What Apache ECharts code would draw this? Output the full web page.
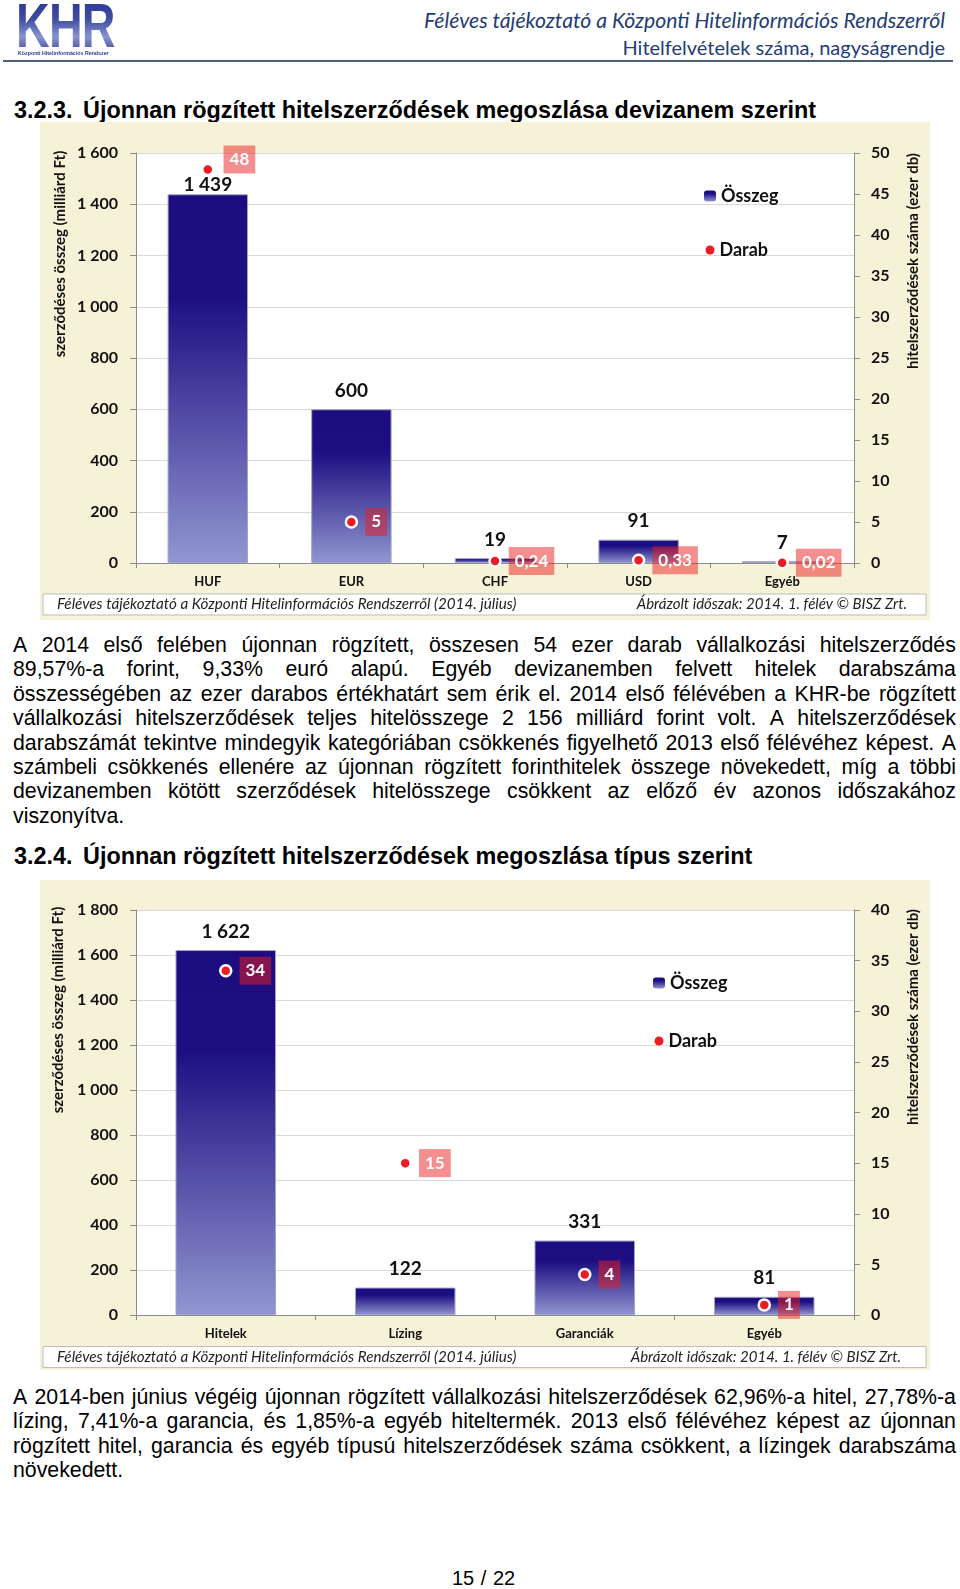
<!DOCTYPE html>
<html><head><meta charset="utf-8">
<script src="https://cdn.jsdelivr.net/npm/echarts@6/dist/echarts.min.js"></script>
<style>
html,body{margin:0;padding:0;background:#fff;}
body{width:960px;height:1589px;position:relative;overflow:hidden;font-family:"Liberation Sans",Arial,sans-serif;color:#000;}
#logoKHR{position:absolute;left:16px;top:-6px;font-family:"Liberation Sans",Arial,sans-serif;font-weight:bold;font-size:63px;line-height:63px;letter-spacing:-1px;transform:scaleX(0.74);transform-origin:0 0;background:linear-gradient(180deg,#26338a 0%,#3f4da3 40%,#8893cf 68%,#2a3589 100%);-webkit-background-clip:text;background-clip:text;color:transparent;white-space:nowrap;}
#logoSub{position:absolute;left:18px;top:50px;font-family:"Liberation Sans",Arial,sans-serif;font-weight:bold;font-size:6px;line-height:7px;color:#2b3a8a;white-space:nowrap;transform:scaleX(0.88);transform-origin:0 0;}
.hdr{position:absolute;right:15px;font-family:Lato,"Open Sans",sans-serif;color:#233c78;white-space:nowrap;line-height:24px;}
#hdr1{top:8px;font-size:21.2px;font-style:italic;}
#hdr2{top:35px;font-size:20px;}
#hline{position:absolute;left:3px;top:60px;width:950px;height:2px;background:#4f5d7a;}
.h2{position:absolute;left:14px;font-family:"Liberation Sans",Arial,sans-serif;font-weight:bold;font-size:23.4px;line-height:28px;white-space:nowrap;}
.h2 .num{display:inline-block;width:69px;}
.para{position:absolute;left:13px;width:943px;font-family:"Liberation Sans",Arial,sans-serif;font-size:21.3px;line-height:24.4px;}
.ln{white-space:nowrap;height:24.4px;}
.chart{position:absolute;}
#pnum{position:absolute;left:452px;top:1566px;font-family:"Liberation Sans",Arial,sans-serif;font-size:20px;line-height:24px;word-spacing:1px;}
</style></head>
<body>
<div id="logoKHR">KHR</div>
<div id="logoSub">Központi Hitelinformációs Rendszer</div>
<div class="hdr" id="hdr1">Féléves tájékoztató a Központi Hitelinformációs Rendszerről</div>
<div class="hdr" id="hdr2">Hitelfelvételek száma, nagyságrendje</div>
<div id="hline"></div>

<div class="h2" style="top:96px;"><span class="num">3.2.3.</span>Újonnan rögzített hitelszerződések megoszlása devizanem szerint</div>
<div class="chart" id="c1" style="left:40px;top:122px;width:890px;height:498px;"></div>
<div class="para" id="p1" style="top:633px;"></div>
<div class="h2" style="top:842px;"><span class="num">3.2.4.</span>Újonnan rögzített hitelszerződések megoszlása típus szerint</div>
<div class="chart" id="c2" style="left:40px;top:880px;width:890px;height:490px;"></div>
<div class="para" id="p2" style="top:1385px;"></div>
<div id="pnum">15 / 22</div>

<script>
// ---- data ----
const cats1 = ['HUF', 'EUR', 'CHF', 'USD', 'Egyéb'];
const osszeg1 = [1439, 600, 19, 91, 7];
const darab1 = [48, 5, 0.24, 0.33, 0.02];
const leftMax1 = 1600, rightMax1 = 50;

const cats2 = ['Hitelek', 'Lízing', 'Garanciák', 'Egyéb'];
const osszeg2 = [1622, 122, 331, 81];
const darab2 = [34, 15, 4, 1];
const leftMax2 = 1800, rightMax2 = 40;

const seriesNames = ['Összeg', 'Darab'];
const leftAxisName = 'szerződéses összeg (milliárd Ft)';
const rightAxisName = 'hitelszerződések száma (ezer db)';
const footLeft = 'Féléves tájékoztató a Központi Hitelinformációs Rendszerről (2014. július)';
const footRight = 'Ábrázolt időszak: 2014. 1. félév © BISZ Zrt.';

const para1 = [
 'A 2014 első felében újonnan rögzített, összesen 54 ezer darab vállalkozási hitelszerződés',
 '89,57%-a forint, 9,33% euró alapú. Egyéb devizanemben felvett hitelek darabszáma',
 'összességében az ezer darabos értékhatárt sem érik el. 2014 első félévében a KHR-be rögzített',
 'vállalkozási hitelszerződések teljes hitelösszege 2 156 milliárd forint volt. A hitelszerződések',
 'darabszámát tekintve mindegyik kategóriában csökkenés figyelhető 2013 első félévéhez képest. A',
 'számbeli csökkenés ellenére az újonnan rögzített forinthitelek összege növekedett, míg a többi',
 'devizanemben kötött szerződések hitelösszege csökkent az előző év azonos időszakához',
 'viszonyítva.'
];
const para2 = [
 'A 2014-ben június végéig újonnan rögzített vállalkozási hitelszerződések 62,96%-a hitel, 27,78%-a',
 'lízing, 7,41%-a garancia, és 1,85%-a egyéb hiteltermék. 2013 első félévéhez képest az újonnan',
 'rögzített hitel, garancia és egyéb típusú hitelszerződések száma csökkent, a lízingek darabszáma',
 'növekedett.'
];

function buildPara(el, lines){
  lines.forEach((ln,i)=>{
    const d=document.createElement('div');
    d.className='ln';
    if(i<lines.length-1){
      d.style.display='flex'; d.style.justifyContent='space-between';
      ln.split(' ').forEach(w=>{const s=document.createElement('span');s.textContent=w;d.appendChild(s);});
    } else d.textContent=ln;
    el.appendChild(d);
  });
}
buildPara(document.getElementById('p1'), para1);
buildPara(document.getElementById('p2'), para2);

const FONT = 'Lato';
function fmtThousands(v){return String(v).replace(/\B(?=(\d{3})+(?!\d))/g,' ');}
function fmtDec(v){return String(v).replace('.',',');}

function makeOption(c){
  const grad = new echarts.graphic.LinearGradient(0,0,0,1,[
    {offset:0,color:'#1c0c80'},{offset:0.28,color:'#1d0f82'},{offset:1,color:'#9196d0'}]);
  const axisCol = '#8c8c8c';
  const lblStyle = {fontFamily:FONT,fontSize:16,fontWeight:'bold',color:'#111'};
  return {
    backgroundColor:'#f5f2d8',
    animation:false,
    textStyle:{fontFamily:FONT},
    grid:{left:96,right:76,top:c.gridTop,height:c.gridH,show:true,backgroundColor:'#ffffff',borderWidth:0},
    legend:[
      {data:[seriesNames[0]],orient:'vertical',left:c.legX,top:c.leg1Y,padding:0,itemWidth:12,itemHeight:11,itemGap:0,
       selectedMode:false,itemStyle:{borderWidth:0},
       textStyle:{fontFamily:FONT,fontSize:18,fontWeight:'bold',color:'#111',lineHeight:20}},
      {data:[seriesNames[1]],orient:'vertical',left:c.legX+1.5,top:c.leg2Y,padding:0,itemWidth:9,itemHeight:9,itemGap:0,
       selectedMode:false,icon:'circle',itemStyle:{borderWidth:0},
       textStyle:{fontFamily:FONT,fontSize:18,fontWeight:'bold',color:'#111',lineHeight:20}}
    ],
    xAxis:{type:'category',data:c.cats,boundaryGap:true,
      axisLine:{show:true,lineStyle:{color:axisCol,width:1}},
      axisTick:{show:true,length:5,lineStyle:{color:axisCol}},
      axisLabel:{fontFamily:FONT,fontSize:13,fontWeight:'bold',color:'#111',margin:12},
      splitLine:{show:false}},
    yAxis:[
      {type:'value',min:0,max:c.lMax,interval:200,
       axisLine:{show:true,lineStyle:{color:axisCol}},
       axisTick:{show:true,length:6,lineStyle:{color:axisCol}},
       axisLabel:Object.assign({formatter:fmtThousands,margin:18},lblStyle),
       splitLine:{show:true,lineStyle:{color:'#d9d9d9',width:1}}},
      {type:'value',position:'right',min:0,max:c.rMax,interval:5,
       axisLine:{show:true,lineStyle:{color:axisCol}},
       axisTick:{show:true,length:6,lineStyle:{color:axisCol}},
       axisLabel:Object.assign({margin:17},lblStyle),
       splitLine:{show:false}}
    ],
    series:[
      {name:seriesNames[0],type:'bar',barWidth:'56%',data:c.barData,z:2,
       itemStyle:{color:grad,borderColor:'#a3a4c9',borderWidth:1},
       label:{show:true,position:'top',distance:9,formatter:p=>fmtThousands(p.value),
         fontFamily:FONT,fontSize:19,fontWeight:'bold',color:'#111'}},
      {name:seriesNames[1],type:'scatter',yAxisIndex:1,data:c.dotData,z:5,
       symbol:'circle',symbolSize:11,
       itemStyle:{color:'#ec1c24',borderColor:'#ffffff',borderWidth:2.5,opacity:1},
       label:{show:true,position:'right',distance:7,formatter:p=>fmtDec(p.value),
         fontFamily:FONT,fontSize:17,fontWeight:'bold',color:'#ffffff',
         backgroundColor:'rgba(235,30,30,0.5)',padding:[6,6,5,6]}}
    ],
    graphic:[
      {type:'text',x:c.lnX,y:c.lnY,rotation:Math.PI/2,
       style:{text:leftAxisName,fontFamily:FONT,fontSize:15,fontWeight:'bold',fill:'#111',align:'center',verticalAlign:'middle'}},
      {type:'text',x:c.rnX,y:c.rnY,rotation:Math.PI/2,
       style:{text:rightAxisName,fontFamily:FONT,fontSize:15,fontWeight:'bold',fill:'#111',align:'center',verticalAlign:'middle'}},
      {type:'rect',shape:{x:3,y:c.footY-10.5,width:883,height:21},style:{fill:'#ffffff',stroke:'#bdbdbd',lineWidth:1}},
      {type:'text',x:17,y:c.footY,style:{text:footLeft,fontFamily:FONT,fontStyle:'italic',fontSize:15.2,fill:'#222',align:'left',verticalAlign:'middle'}},
      {type:'text',x:c.footRX,y:c.footY,style:{text:footRight,fontFamily:FONT,fontStyle:'italic',fontSize:15,fill:'#222',align:'right',verticalAlign:'middle'}}
    ]
  };
}

const ch1 = echarts.init(document.getElementById('c1'), null, {renderer:'canvas'});
ch1.setOption(makeOption({
  cats:cats1, lMax:leftMax1, rMax:rightMax1, gridTop:31, gridH:410,
  barData: osszeg1.map((v,i)=> i===0 ? {value:v,label:{offset:[0,9]}} : v),
  dotData: darab1.map((v,i)=> i===0 ? {value:v,label:{offset:[2,-10]}} : v),
  legX:664, leg1Y:64, leg2Y:118,
  lnX:20, lnY:132, rnX:873, rnY:139,
  footY:482.5, footRX:867
}));

const ch2 = echarts.init(document.getElementById('c2'), null, {renderer:'canvas'});
ch2.setOption(makeOption({
  cats:cats2, lMax:leftMax2, rMax:rightMax2, gridTop:30, gridH:405,
  barData: osszeg2.slice(),
  dotData: darab2.slice(),
  legX:613, leg1Y:93, leg2Y:151,
  lnX:18, lnY:130, rnX:873, rnY:137,
  footY:477, footRX:861
}));
</script>
</body></html>
